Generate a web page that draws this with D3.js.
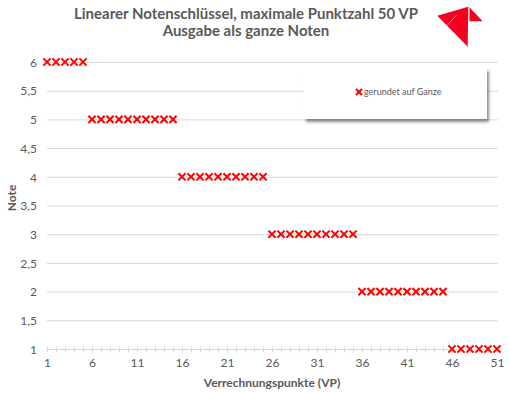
<!DOCTYPE html>
<html lang="de">
<head>
<meta charset="utf-8">
<title>Linearer Notenschlüssel</title>
<script src="https://cdnjs.cloudflare.com/ajax/libs/d3/7.8.5/d3.min.js"></script>
<style>
  body { margin: 0; background: #fff; }
  * { font-family: Lato, "Open Sans", sans-serif; }
  .grid line { stroke: #d9d9d9; stroke-width: 1px; }
  .axis text { fill: #595959; font-size: 12px; }
  .axis path, .axis line { stroke: #d9d9d9; }
</style>
</head>
<body>
<div id="vis"></div>
<script>
// Verrechnungspunkte (Kategorien) und Noten
var punkte = ['1','2','3','4','5','6','7','8','9','10','11','12','13','14','15','16','17','18','19','20',
  '21','22','23','24','25','26','27','28','29','30','31','32','33','34','35','36','37','38','39','40',
  '41','42','43','44','45','46','47','48','49','50','51'];
var noten = [6,6,6,6,6, 5,5,5,5,5,5,5,5,5,5, 4,4,4,4,4,4,4,4,4,4, 3,3,3,3,3,3,3,3,3,3,
  2,2,2,2,2,2,2,2,2,2, 1,1,1,1,1,1];
var xLabels = ['1','6','11','16','21','26','31','36','41','46','51'];
var yTicks = [1, 1.5, 2, 2.5, 3, 3.5, 4, 4.5, 5, 5.5, 6];

var width = 510, height = 393;
var red = '#ff0000';

var svg = d3.select('#vis').append('svg')
    .attr('width', width)
    .attr('height', height);

var defs = svg.append('defs');
var f = defs.append('filter').attr('id', 'shadow')
    .attr('x', '-10%').attr('y', '-10%').attr('width', '130%').attr('height', '140%');
f.append('feDropShadow').attr('dx', 2).attr('dy', 3).attr('stdDeviation', 1.5)
    .attr('flood-color', '#000').attr('flood-opacity', 0.45);

var x = d3.scalePoint().domain(punkte).range([47, 497]).padding(0);
var y = d3.scaleLinear().domain([1, 6]).range([349, 62]);

// Gitternetz
svg.append('g').attr('class', 'grid')
    .selectAll('line')
    .data(yTicks.filter(function(d) { return d > 1; }))
    .enter().append('line')
    .attr('x1', 47).attr('x2', 498)
    .attr('y1', function(d) { return y(d) + 0.5; })
    .attr('y2', function(d) { return y(d) + 0.5; });

// y-Achse (nur Beschriftung)
var yAxis = svg.append('g').attr('class', 'axis')
    .attr('transform', 'translate(40,0)')
    .call(d3.axisLeft(y).tickValues(yTicks).tickSize(0)
        .tickFormat(function(d) { return String(d).replace('.', ','); }));
yAxis.select('.domain').remove();
yAxis.selectAll('text').attr('x', -3).attr('dy', '0.35em');

// x-Achse
var xAxis = svg.append('g').attr('class', 'axis')
    .attr('transform', 'translate(0,' + (y(1) + 0.5) + ')')
    .call(d3.axisBottom(x).tickSize(6).tickSizeOuter(0)
        .tickFormat(function(d) { return xLabels.indexOf(d) >= 0 ? d : ''; }));
xAxis.select('.domain').attr('d', 'M47,0H498');
xAxis.selectAll('.tick line').attr('y1', -3).attr('y2', 3);
xAxis.selectAll('.tick text').attr('y', 9).attr('dy', '0.71em');

// Markierungen
var s = 3.6;
svg.append('g').selectAll('path')
    .data(noten)
    .enter().append('path')
    .attr('transform', function(d, i) { return 'translate(' + x(punkte[i]) + ',' + y(d) + ')'; })
    .attr('d', 'M' + (-s) + ',' + (-s) + 'L' + s + ',' + s + 'M' + (-s) + ',' + s + 'L' + s + ',' + (-s))
    .attr('stroke', red)
    .attr('stroke-width', 2)
    .attr('fill', 'none');

// Titel
var title = svg.append('text')
    .attr('x', 246).attr('text-anchor', 'middle')
    .style('font-size', '15px').style('font-weight', 'bold').attr('fill', '#595959');
title.append('tspan').attr('x', 246).attr('y', 19).text('Linearer Notenschlüssel, maximale Punktzahl 50 VP');
title.append('tspan').attr('x', 246).attr('y', 36).text('Ausgabe als ganze Noten');

// Achsentitel
svg.append('text')
    .attr('x', 272).attr('y', 387)
    .attr('text-anchor', 'middle')
    .style('font-size', '12px').style('font-weight', 'bold').attr('fill', '#595959')
    .text('Verrechnungspunkte (VP)');

svg.append('text')
    .attr('transform', 'translate(16,198) rotate(-90)')
    .attr('text-anchor', 'middle')
    .style('font-size', '12px').style('font-weight', 'bold').attr('fill', '#595959')
    .text('Note');

// Legende
var legend = svg.append('g');
legend.append('rect')
    .attr('x', 304).attr('y', 68).attr('width', 183).attr('height', 51)
    .attr('fill', '#fff').attr('filter', 'url(#shadow)');
legend.append('path')
    .attr('transform', 'translate(359,92)')
    .attr('d', 'M-3,-3L3,3M-3,3L3,-3')
    .attr('stroke', red).attr('stroke-width', 2);
legend.append('text')
    .attr('x', 364).attr('y', 92).attr('dy', '0.35em')
    .style('font-size', '9px').attr('fill', '#595959')
    .text('gerundet auf Ganze');

// Logo
var logo = svg.append('g');
logo.append('polygon').attr('points', '437.3,15.7 468.3,6.7 467.7,46.7').attr('fill', '#f5001e');
logo.append('line').attr('x1', 447).attr('y1', 25.5).attr('x2', 456.5).attr('y2', 15.2)
    .attr('stroke', '#f7a1aa').attr('stroke-width', 1);
logo.append('polygon').attr('points', '469.5,7.3 482.7,21.3 469.5,21.3').attr('fill', '#f5001e');
</script>
</body>
</html>
